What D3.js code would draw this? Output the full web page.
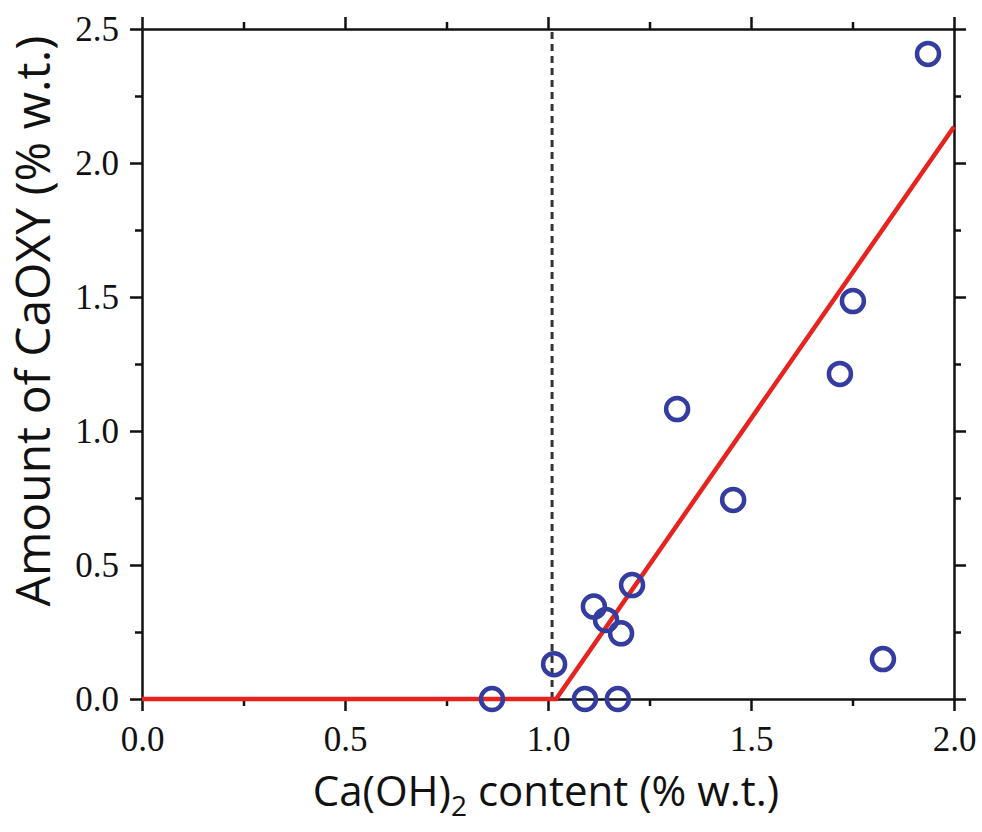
<!DOCTYPE html>
<html>
<head>
<meta charset="utf-8">
<script src="https://d3js.org/d3.v7.min.js"></script>
<style>
  body { margin: 0; background: #fff; }
  svg { display: block; }
</style>
</head>
<body>
<script>
// measured points: Ca(OH)2 content vs amount of CaOXY
var caOH = [0.862, 1.015, 1.091, 1.172, 1.113, 1.143, 1.180, 1.207, 1.318, 1.456, 1.719, 1.751, 1.825, 1.936];
var caOXY = [0.0, 0.130, 0.0, 0.0, 0.345, 0.295, 0.245, 0.425, 1.082, 0.743, 1.213, 1.485, 0.149, 2.407];

// fitted line (flat, then linear)
var fitX = [0.0, 1.02, 2.0];
var fitY = [0.0, 0.0, 2.135];

// threshold marker
var threshold = 1.01;

var xTicks = [0.0, 0.5, 1.0, 1.5, 2.0];
var yTicks = [0.0, 0.5, 1.0, 1.5, 2.0, 2.5];
var xMinor = [0.25, 0.75, 1.25, 1.75];
var yMinor = [0.25, 0.75, 1.25, 1.75, 2.25];

var W = 982, H = 832;
var pLeft = 142, pTop = 29, pRight = 954, pBottom = 699;

var svg = d3.select("body").append("svg")
    .attr("width", W)
    .attr("height", H);

var x = d3.scaleLinear().domain([0, 2]).range([pLeft, pRight]);
var y = d3.scaleLinear().domain([0, 2.5]).range([pBottom, pTop]);

var fmt = d3.format(".1f");
var majorLen = 12, minorLen = 7;

// axes: major + minor on all four sides
function styleAxis(g) {
  g.selectAll("path").attr("stroke", "#111").attr("stroke-width", 2.5);
  g.selectAll("line").attr("stroke", "#111").attr("stroke-width", 2.5);
  g.selectAll("text")
    .attr("fill", "#111")
    .style("font-family", "'Liberation Serif', 'Times New Roman', serif")
    .style("font-size", "35px");
}

function drawAxis(axisFn, scale, ticks, minor, transform, labels, pad) {
  var major = axisFn(scale).tickValues(ticks).tickSize(majorLen).tickSizeOuter(0)
      .tickPadding(pad)
      .tickFormat(labels ? fmt : "");
  svg.append("g").attr("transform", transform).call(major).call(styleAxis);
  var mn = axisFn(scale).tickValues(minor).tickSize(minorLen).tickSizeOuter(0).tickFormat("");
  svg.append("g").attr("transform", transform).call(mn).call(styleAxis)
     .select(".domain").remove();
}

drawAxis(d3.axisBottom, x, xTicks, xMinor, "translate(0," + pBottom + ")", true, 15);
drawAxis(d3.axisTop, x, xTicks, xMinor, "translate(0," + pTop + ")", false, 0);
drawAxis(d3.axisLeft, y, yTicks, yMinor, "translate(" + pLeft + ",0)", true, 11);
drawAxis(d3.axisRight, y, yTicks, yMinor, "translate(" + pRight + ",0)", false, 0);

// dashed threshold line
svg.append("line")
    .attr("x1", x(threshold)).attr("x2", x(threshold))
    .attr("y1", y(0)).attr("y2", y(2.5))
    .attr("stroke", "#333")
    .attr("stroke-width", 3)
    .attr("stroke-dasharray", "7,5");

// fit line
var fit = fitX.map(function(d, i) { return [d, fitY[i]]; });
svg.append("path")
    .datum(fit)
    .attr("fill", "none")
    .attr("stroke", "#e8231e")
    .attr("stroke-width", 4.5)
    .attr("d", d3.line().x(function(d) { return x(d[0]); }).y(function(d) { return y(d[1]); }));

// points
svg.selectAll("circle.pt")
    .data(caOH)
    .enter()
    .append("circle")
    .attr("class", "pt")
    .attr("cx", function(d) { return x(d); })
    .attr("cy", function(d, i) { return y(caOXY[i]); })
    .attr("r", 11)
    .attr("fill", "none")
    .attr("stroke", "#343c9f")
    .attr("stroke-width", 4.5);

// axis titles
var titleFont = "'Open Sans', 'Noto Sans', sans-serif";

var xt = svg.append("text")
    .attr("x", (pLeft + pRight) / 2 - 2)
    .attr("y", 806)
    .attr("text-anchor", "middle")
    .style("font-family", titleFont)
    .style("font-size", "42px")
    .attr("fill", "#111");
xt.append("tspan").text("Ca(OH)");
xt.append("tspan").text("2").attr("dy", 10).style("font-size", "28px");
xt.append("tspan").text(" content (% w.t.)").attr("dy", -10);

svg.append("text")
    .attr("transform", "translate(50," + 321 + ") rotate(-90)")
    .attr("text-anchor", "middle")
    .style("font-family", titleFont)
    .style("font-size", "48px")
    .attr("fill", "#111")
    .text("Amount of CaOXY (% w.t.)");
</script>
</body>
</html>
